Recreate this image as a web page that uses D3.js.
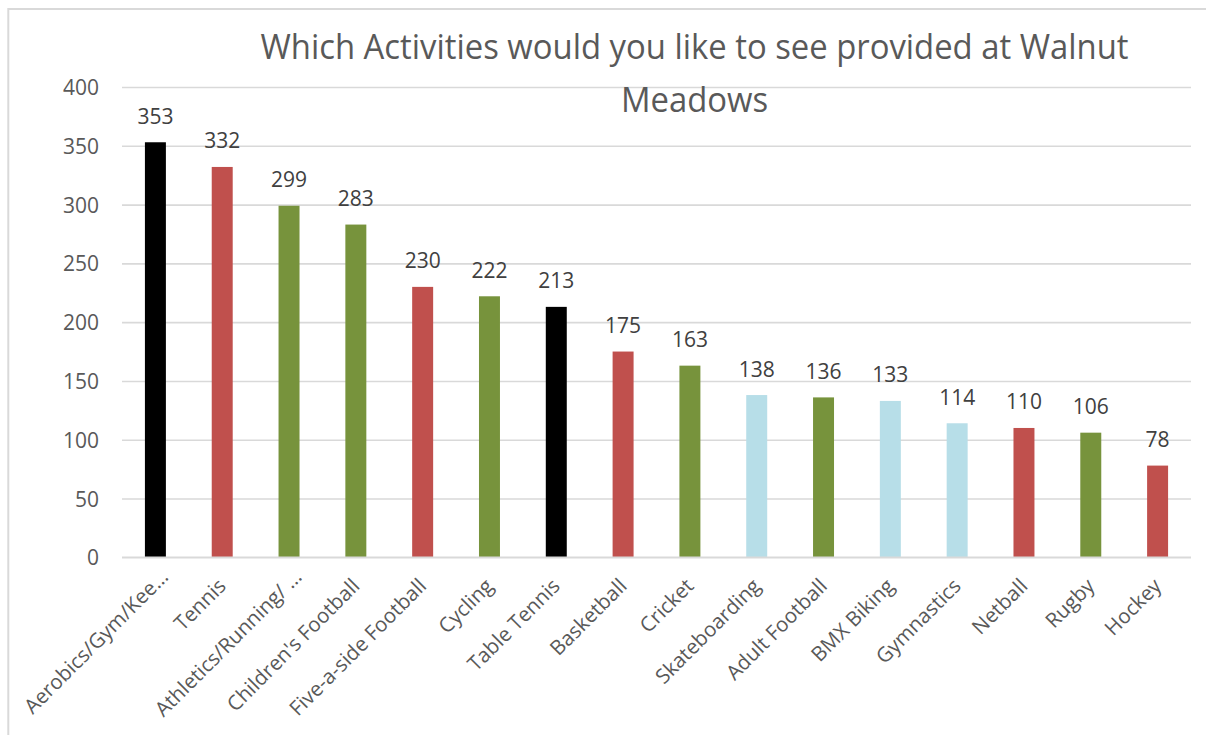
<!DOCTYPE html>
<html>
<head>
<meta charset="utf-8">
<script src="https://cdn.jsdelivr.net/npm/d3@7"></script>
<style>
  html, body { margin: 0; padding: 0; background: #ffffff; }
  svg { display: block; }
  text { font-family: "Open Sans", "Noto Sans", sans-serif; }
</style>
</head>
<body>
<div id="chart"></div>
<script>
// Survey responses: activities people would like at Walnut Meadows
const categories = [
  "Aerobics/Gym/Kee\u2026", "Tennis", "Athletics/Running/ \u2026", "Children's Football",
  "Five-a-side Football", "Cycling", "Table Tennis", "Basketball", "Cricket",
  "Skateboarding", "Adult Football", "BMX Biking", "Gymnastics", "Netball",
  "Rugby", "Hockey"
];
const values = [353, 332, 299, 283, 230, 222, 213, 175, 163, 138, 136, 133, 114, 110, 106, 78];
const yTicks = [0, 50, 100, 150, 200, 250, 300, 350, 400];
const titleLines = ["Which Activities would you like to see provided at Walnut", "Meadows"];

// Fill colour for each bar, in category order
const barColors = [
  "#000000", "#C0504D", "#77933C", "#77933C", "#C0504D", "#77933C", "#000000", "#C0504D",
  "#77933C", "#B7DEE8", "#77933C", "#B7DEE8", "#B7DEE8", "#C0504D", "#77933C", "#C0504D"
];

const W = 1206, H = 735;
const plot = { left: 122, right: 1191, top: 87, bottom: 557.3 };

const svg = d3.select("#chart").append("svg")
  .attr("width", W).attr("height", H);

// Chart frame
svg.append("rect")
  .attr("x", 8.3).attr("y", 9)
  .attr("width", W + 20).attr("height", H + 20)
  .attr("fill", "#ffffff")
  .attr("stroke", "#D9D9D9").attr("stroke-width", 2);

const x = d3.scaleBand()
  .domain(categories)
  .range([plot.left, plot.right])
  .paddingInner(0.686)
  .paddingOuter(0.343);

const y = d3.scaleLinear()
  .domain([0, 400])
  .range([plot.bottom, plot.top]);

// Horizontal gridlines and value axis labels
const yAxis = d3.axisLeft(y)
  .tickValues(yTicks)
  .tickSize(-(plot.right - plot.left))
  .tickPadding(23)
  .tickFormat(d3.format("d"));

const gy = svg.append("g")
  .attr("transform", `translate(${plot.left},0)`)
  .call(yAxis);
gy.select(".domain").remove();
gy.selectAll(".tick line")
  .attr("stroke", "#D9D9D9").attr("stroke-width", 1.6);
gy.selectAll(".tick text")
  .attr("fill", "#595959")
  .attr("font-size", 21)
  .attr("dy", "0.36em");

// Bars
svg.append("g").selectAll("rect")
  .data(values)
  .join("rect")
  .attr("x", (d, i) => x(categories[i]))
  .attr("y", d => y(d))
  .attr("width", x.bandwidth())
  .attr("height", d => y(0) - y(d))
  .attr("fill", (d, i) => barColors[i]);

// Redraw the baseline on top of the bars
svg.append("line")
  .attr("x1", plot.left).attr("x2", plot.right)
  .attr("y1", y(0)).attr("y2", y(0))
  .attr("stroke", "#D9D9D9").attr("stroke-width", 1.6);

// Value labels above each bar
svg.append("g").selectAll("text")
  .data(values)
  .join("text")
  .attr("x", (d, i) => x(categories[i]) + x.bandwidth() / 2)
  .attr("y", d => y(d) - 18.5)
  .attr("text-anchor", "middle")
  .attr("fill", "#404040")
  .attr("font-size", 21)
  .text(d => d);

// Category labels, rotated 45 degrees
svg.append("g").selectAll("text")
  .data(categories)
  .join("text")
  .attr("transform", d => {
    const cx = x(d) + x.bandwidth() / 2;
    const s = d.endsWith("\u2026") ? 9 : 0;
    return `translate(${cx + 5 + s},${plot.bottom + 30 - s}) rotate(-45)`;
  })
  .attr("text-anchor", "end")
  .attr("fill", "#595959")
  .attr("font-size", 20.5)
  .text(d => d);

// Title, two centred lines; the face is set a touch narrower so the
// first line spans its intended width at full height
const titleCx = 694.5;
const titleWidth = 868;
const titleSize = 34;
const title = svg.append("g")
  .attr("fill", "#595959")
  .attr("font-size", titleSize)
  .attr("text-anchor", "middle");
const t1 = title.append("text")
  .attr("x", titleCx).attr("y", 59)
  .text(titleLines[0]);
const t2 = title.append("text")
  .attr("x", titleCx).attr("y", 112)
  .text(titleLines[1]);
const w1 = t1.node().getComputedTextLength();
const w2 = t2.node().getComputedTextLength();
if (w1 > 0) {
  const k = titleWidth / w1;
  t1.attr("textLength", titleWidth).attr("lengthAdjust", "spacingAndGlyphs");
  t2.attr("textLength", w2 * k).attr("lengthAdjust", "spacingAndGlyphs");
}
</script>
</body>
</html>
